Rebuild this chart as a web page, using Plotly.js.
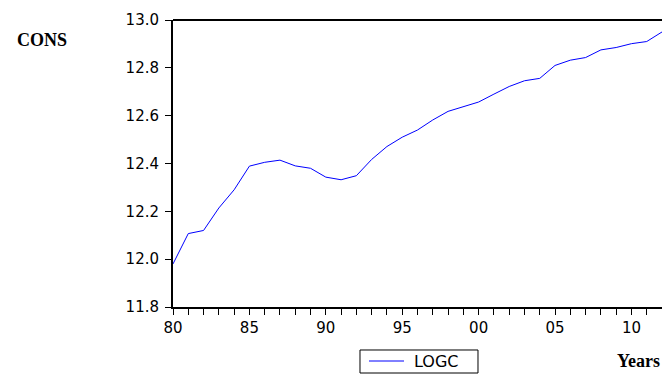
<!DOCTYPE html>
<html>
<head>
<meta charset="utf-8">
<script src="https://cdn.plot.ly/plotly-3.0.1.min.js"></script>
<style>html,body{margin:0;padding:0;background:#fff;}#chart{width:662px;height:374px;}</style>
</head>
<body>
<div id="chart"></div>
<script>
const years = [1980,1981,1982,1983,1984,1985,1986,1987,1988,1989,1990,1991,1992,1993,1994,1995,1996,1997,1998,1999,2000,2001,2002,2003,2004,2005,2006,2007,2008,2009,2010,2011,2012];
const logc = [11.98,12.107,12.12,12.214,12.29,12.389,12.405,12.414,12.39,12.38,12.343,12.332,12.349,12.417,12.471,12.51,12.54,12.582,12.618,12.639,12.657,12.69,12.722,12.746,12.756,12.81,12.832,12.843,12.875,12.885,12.901,12.91,12.95];
const seriesName = 'LOGC';
const yTicks = [11.8,12.0,12.2,12.4,12.6,12.8,13.0];
const xTickVals = years;
const xTickText = years.map(y => (y % 5 === 0) ? String(y).slice(2) : '');
const yLabel = 'CONS';
const xLabel = 'Years';
const lineColor = '#0000ff';

const trace = {
  x: years, y: logc, type: 'scatter', mode: 'lines', name: seriesName,
  line: {color: lineColor, width: 1},
  cliponaxis: false
};

const layout = {
  width: 662, height: 374,
  margin: {l: 173, r: 0, t: 20, b: 67, autoexpand: false},
  paper_bgcolor: '#fff', plot_bgcolor: '#fff',
  font: {family: 'DejaVu Sans, Arial, sans-serif', size: 15, color: '#000'},
  showlegend: false,
  xaxis: {
    range: [1980, 2012], showgrid: false, zeroline: false,
    showline: true, linecolor: '#000', linewidth: 2,
    ticks: 'outside', ticklen: 6, tickwidth: 1, tickcolor: '#000',
    tickmode: 'array', tickvals: xTickVals, ticktext: xTickText,
    tickfont: {family: 'DejaVu Sans, Arial, sans-serif', size: 15, color: '#000'},
    fixedrange: true
  },
  yaxis: {
    range: [11.8, 13.0], showgrid: false, zeroline: false,
    showline: true, linecolor: '#000', linewidth: 2,
    ticks: 'outside', ticklen: 6, tickwidth: 1, tickcolor: '#000',
    tickmode: 'array', tickvals: yTicks, ticktext: yTicks.map(v => v.toFixed(1)),
    ticklabelstandoff: 3,
    tickfont: {family: 'DejaVu Sans, Arial, sans-serif', size: 15, color: '#000'},
    fixedrange: true
  },
  shapes: [
    {type: 'line', xref: 'paper', yref: 'paper', x0: 0, x1: 1, y0: 1, y1: 1,
     line: {color: '#000', width: 2}},
    // legend box
    {type: 'rect', xref: 'paper', yref: 'paper', x0: 0.3824, x1: 0.6237, y0: -0.2300, y1: -0.1498,
     line: {color: '#000', width: 1}, fillcolor: '#fff'},
    // legend line sample
    {type: 'line', xref: 'paper', yref: 'paper', x0: 0.4008, x1: 0.4724, y0: -0.1882, y1: -0.1882,
     line: {color: lineColor, width: 1}}
  ],
  annotations: [
    {text: seriesName, xref: 'paper', yref: 'paper', x: 0.4888, y: -0.1882,
     xanchor: 'left', yanchor: 'middle', showarrow: false,
     font: {family: 'DejaVu Sans, Arial, sans-serif', size: 16, color: '#000'}},
    {text: '<b>' + yLabel + '</b>', xref: 'paper', yref: 'paper', x: -0.267, y: 0.93,
     xanchor: 'center', yanchor: 'middle', showarrow: false,
     font: {family: 'Liberation Serif, Times New Roman, serif', size: 18, color: '#000'}},
    {text: '<b>' + xLabel + '</b>', xref: 'paper', yref: 'paper', x: 1, y: -0.188,
     xanchor: 'right', yanchor: 'middle', showarrow: false,
     font: {family: 'Liberation Serif, Times New Roman, serif', size: 18, color: '#000'}}
  ]
};

Plotly.newPlot('chart', [trace], layout, {displayModeBar: false, staticPlot: true});
</script>
</body>
</html>
